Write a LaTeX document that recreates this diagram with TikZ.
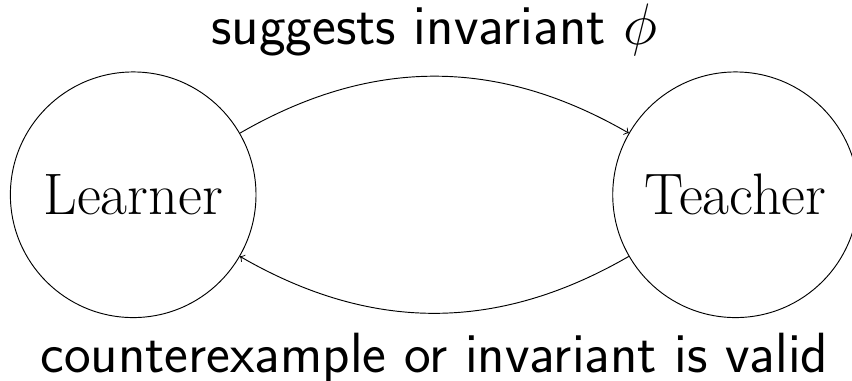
\documentclass[tikz,border=0pt]{standalone}
\newcommand\msgsize{\fontsize{24.1}{29}\selectfont}
\begin{document}
\begin{tikzpicture}[agent/.style={draw, circle, minimum size=3.67cm, font=\Huge},
    msg/.style={font=\msgsize\sffamily, anchor=base}]
    \useasboundingbox (-1.99, -2.78) rectangle (10.74, 2.91);
    \node[agent] (L) at (0, 0) {Learner};
    \node[agent] (T) at (9, 0) {Teacher};
    \draw[->] (L) to[bend left] (T);
    \draw[->] (T) to[bend left] (L);
    \node[msg] (S) at (4.5, 2.24) {suggests invariant $\phi$};
    \node[msg] (C) at (4.5, -2.65) {counterexample or invariant is valid};
\end{tikzpicture}
\end{document}
